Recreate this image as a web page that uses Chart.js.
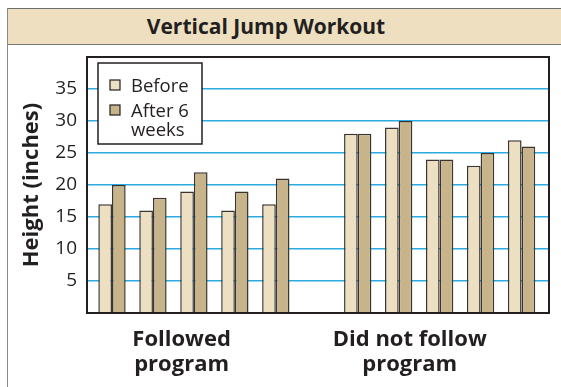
<!DOCTYPE html>
<html>
<head>
<meta charset="utf-8">
<script src="https://cdn.jsdelivr.net/npm/chart.js@4.4.1/dist/chart.umd.min.js"></script>
<style>
  html, body { margin: 0; padding: 0; background: #fff; }
  body { width: 561px; height: 387px; position: relative; overflow: hidden; font-family: "Open Sans", sans-serif; }
  .frame { position: absolute; left: 7px; top: 8px; width: 600px; height: 400px; border-left: 1.5px solid #8a8a8a; border-top: 1.5px solid #6e6e6e; }
  .band { height: 35px; background: #EEDFC1; border-bottom: 1.5px solid #7a7a7a; }
  .band h1 { margin: 0; width: 516px; text-align: center; font-size: 21px; font-weight: 700; line-height: 35px; color: #231f20; }
  .plot { position: absolute; left: 0; top: 45px; width: 561px; height: 342px; }
</style>
</head>
<body>
<div class="frame"><div class="band"><h1>Vertical Jump Workout</h1></div></div>
<div class="plot"><canvas id="chartJump" width="561" height="342"></canvas></div>
<script>
const groups = ['Followed\nprogram', 'Did not follow\nprogram'];
const seriesNames = ['Before', 'After 6\nweeks'];
const followedBefore = [17, 16, 19, 16, 17];
const followedAfter = [20, 18, 22, 19, 21];
const notFollowedBefore = [28, 29, 24, 23, 27];
const notFollowedAfter = [28, 30, 24, 25, 26];
const yTicks = [5, 10, 15, 20, 25, 30, 35];

const colors = ['#EDE0C2', '#C8B48A'];
const ink = '#231F20';

// each group gets 5 slots, with one empty slot between the groups
const perGroup = followedBefore.length;
const slot = (g, i) => g * (perGroup + 1) + i;
const toPoints = (...lists) => lists.flatMap((vals, g) => vals.map((v, i) => ({ x: slot(g, i), y: v })));
// group captions sit a little left of their group's middle
const captionAt = [1.7, 7.27];

const frame = {
    id: 'frame',
    afterDraw(chart) {
        const { ctx, chartArea: a } = chart;
        ctx.save();
        ctx.strokeStyle = ink;
        ctx.lineWidth = 2;
        ctx.strokeRect(a.left, a.top, a.right - a.left, a.bottom - a.top);
        ctx.restore();
    }
};

// boxed legend in the top-left corner of the plot
const boxLegend = {
    id: 'boxLegend',
    afterDatasetsDraw(chart) {
        const { ctx, chartArea: a } = chart;
        const x = a.left + 11, y = a.top + 6, w = 104, h = 81;
        ctx.save();
        ctx.fillStyle = '#fff';
        ctx.fillRect(x, y, w, h);
        ctx.strokeStyle = ink;
        ctx.lineWidth = 1.5;
        ctx.strokeRect(x, y, w, h);
        ctx.font = '18.5px "Open Sans"';
        ctx.textBaseline = 'alphabetic';
        let rowY = y + 22;
        chart.data.datasets.forEach(ds => {
            ctx.fillStyle = ds.backgroundColor;
            ctx.fillRect(x + 12, rowY - 5, 10, 10);
            ctx.lineWidth = 1.2;
            ctx.strokeRect(x + 12, rowY - 5, 10, 10);
            ctx.fillStyle = ink;
            ds.label.split('\n').forEach((line, k) => {
                ctx.fillText(line, x + 33, rowY + 7 + k * 19);
            });
            rowY += 25;
        });
        ctx.restore();
    }
};

const ctx = document.getElementById('chartJump').getContext('2d');
new Chart(ctx, {
    type: 'bar',
    data: {
        datasets: [{
            label: seriesNames[0],
            data: toPoints(followedBefore, notFollowedBefore),
            backgroundColor: colors[0],
            borderColor: '#3a3533',
            borderWidth: 1.5
        }, {
            label: seriesNames[1],
            data: toPoints(followedAfter, notFollowedAfter),
            backgroundColor: colors[1],
            borderColor: '#3a3533',
            borderWidth: 1.5
        }]
    },
    options: {
        responsive: false,
        animation: false,
        devicePixelRatio: 1,
        layout: { padding: { top: 12, right: 12, left: 0, bottom: 0 } },
        categoryPercentage: 0.667,
        barPercentage: 1,
        plugins: {
            legend: { display: false },
            tooltip: { enabled: false }
        },
        scales: {
            x: {
                type: 'linear',
                offset: false,
                min: -0.61,
                max: 10.67,
                grid: { display: false },
                border: { display: false },
                afterBuildTicks: s => { s.ticks = captionAt.map(v => ({ value: v })); },
                afterFit: s => { s.height = 74; s.paddingLeft = 0; s.paddingRight = 0; },
                ticks: {
                    autoSkip: false,
                    maxRotation: 0,
                    padding: 6,
                    color: ink,
                    font: { family: 'Open Sans', size: 22, weight: 'bold', lineHeight: 1.15 },
                    callback: (v, i) => groups[i].split('\n')
                }
            },
            y: {
                min: 0,
                max: 40,
                afterBuildTicks: s => { s.ticks = yTicks.map(v => ({ value: v })); },
                afterFit: s => { s.width = 87; s.paddingTop = 0; s.paddingBottom = 0; },
                grid: { color: '#2BAAE0', lineWidth: 1.5, drawTicks: false },
                border: { display: false },
                ticks: {
                    padding: 10,
                    color: ink,
                    font: { family: 'Open Sans', size: 19 }
                },
                title: {
                    display: true,
                    text: 'Height (inches)',
                    color: ink,
                    font: { family: 'Open Sans', size: 22, weight: 'bold', lineHeight: 1.2 },
                    padding: { top: 19, bottom: 0 }
                }
            }
        }
    },
    plugins: [boxLegend, frame]
});
</script>
</body>
</html>
